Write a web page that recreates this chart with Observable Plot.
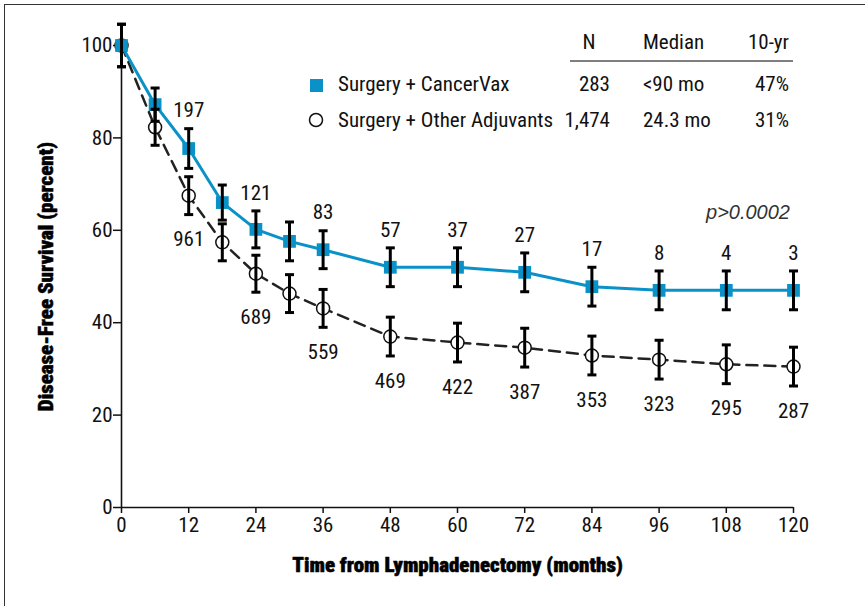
<!DOCTYPE html>
<html><head><meta charset="utf-8">
<script src="https://cdn.jsdelivr.net/npm/d3@7"></script>
<script src="https://cdn.jsdelivr.net/npm/@observablehq/plot@0.6"></script>
<style>
body{margin:0;background:#fff;}
#wrap{position:relative;width:865px;height:606px;overflow:hidden;background:#fff;}
#border{position:absolute;left:4px;top:4px;right:-10px;bottom:-10px;border-left:1.5px solid #333;border-top:1.5px solid #333;pointer-events:none;}
</style></head><body><div id="wrap"><div id="border"></div></div>
<script>
// ---- data ----
const months = [0, 6, 12, 18, 24, 30, 36, 48, 60, 72, 84, 96, 108, 120];
const cancerVax = [100, 87.2, 77.7, 66.0, 60.2, 57.6, 55.8, 52.0, 52.0, 50.9, 47.8, 47.0, 47.0, 47.0];
const cancerVaxErr = [4.6, 3.6, 4.3, 3.8, 4.0, 4.2, 4.1, 4.2, 4.2, 4.2, 4.2, 4.2, 4.2, 4.2];
const otherAdj = [100, 82.3, 67.5, 57.4, 50.6, 46.3, 43.1, 37.0, 35.7, 34.6, 32.9, 32.0, 31.0, 30.5];
const otherAdjErr = [4.6, 3.9, 4.1, 4.0, 4.0, 4.1, 4.1, 4.2, 4.2, 4.2, 4.2, 4.2, 4.2, 4.2];
const countMonths = [12, 24, 36, 48, 60, 72, 84, 96, 108, 120];
const cancerVaxN = [197, 121, 83, 57, 37, 27, 17, 8, 4, 3];
const otherAdjN = [961, 689, 559, 469, 422, 387, 353, 323, 295, 287];
const xTicks = [0, 12, 24, 36, 48, 60, 72, 84, 96, 108, 120];
const yTicks = [0, 20, 40, 60, 80, 100];
const seriesNames = ["Surgery + CancerVax", "Surgery + Other Adjuvants"];
const tableHeaders = ["N", "Median", "10-yr"];
const tableN = ["283", "1,474"];
const tableMedian = ["<90 mo", "24.3 mo"];
const tableTenYr = ["47%", "31%"];
const pValue = "p>0.0002";
const xLabel = "Time from Lymphadenectomy (months)";
const yLabel = "Disease-Free Survival (percent)";

// ---- build ----
const BLUE = "#0a92c8";
const FONT = '"Roboto Condensed", Roboto, "Liberation Sans", sans-serif';
const cancer = months.map((m, i) => ({month: m, value: cancerVax[i], err: cancerVaxErr[i]}));
const other = months.map((m, i) => ({month: m, value: otherAdj[i], err: otherAdjErr[i]}));
const all = cancer.concat(other);
const cancerLabels = countMonths.map((m, i) => ({...cancer.find(d => d.month === m), n: cancerVaxN[i]}));
const otherLabels = countMonths.map((m, i) => ({...other.find(d => d.month === m), n: otherAdjN[i]}));
const cap = {draw(ctx) { ctx.moveTo(-4.5, 0); ctx.lineTo(4.5, 0); }};

const chart = Plot.plot({
  width: 865, height: 606,
  marginLeft: 121, marginRight: 72, marginTop: 45, marginBottom: 99,
  style: {fontFamily: FONT, fontSize: "21px", fontStretch: "condensed", color: "#111", background: "transparent", overflow: "visible"},
  x: {domain: [0, 120]},
  y: {domain: [0, 100]},
  marks: [
    Plot.axisX({ticks: xTicks, tickSize: 6, tickPadding: 4, label: null, fontSize: 21, stroke: "#111", strokeWidth: 1.5, fill: "#111"}),
    Plot.axisY({ticks: yTicks, tickSize: 8, tickPadding: 1, label: null, fontSize: 21, stroke: "#111", strokeWidth: 1.5, fill: "#111"}),
    Plot.ruleY([0], {stroke: "#111", strokeWidth: 1.6}),
    Plot.ruleX([0], {y1: 0, y2: 100, stroke: "#111", strokeWidth: 1.6}),
    Plot.line(other, {x: "month", y: "value", stroke: "#222", strokeWidth: 2.5, strokeDasharray: "11,7"}),
    Plot.line(cancer, {x: "month", y: "value", stroke: BLUE, strokeWidth: 3}),
    Plot.dot(other, {x: "month", y: "value", r: 6.5, fill: "white", stroke: "#111", strokeWidth: 1.5}),
    Plot.dot(cancer, {x: "month", y: "value", symbol: "square", r: 7.2, fill: BLUE}),
    Plot.ruleX(all, {x: "month", y1: d => d.value - d.err, y2: d => d.value + d.err, stroke: "#000", strokeWidth: 3}),
    Plot.dot(all, {x: "month", y: d => d.value + d.err, symbol: cap, stroke: "#000", strokeWidth: 3}),
    Plot.dot(all, {x: "month", y: d => d.value - d.err, symbol: cap, stroke: "#000", strokeWidth: 3}),
    Plot.text(cancerLabels, {x: "month", y: d => d.value + d.err, text: d => String(d.n), dy: -18, fontSize: 21, fill: "#111"}),
    Plot.text(otherLabels, {x: "month", y: d => d.value - d.err, text: d => String(d.n), dy: 25, fontSize: 21, fill: "#111"}),
    Plot.text([xLabel], {frameAnchor: "bottom", textAnchor: "middle", dy: 64, fontSize: 21, fontWeight: 900, fill: "#000", stroke: "#000", strokeWidth: 0.5}),
    Plot.text([yLabel], {frameAnchor: "left", textAnchor: "middle", dx: -75, rotate: -90, fontSize: 21, fontWeight: 900, fill: "#000", stroke: "#000", strokeWidth: 0.5})
  ]
});
document.getElementById("wrap").appendChild(chart);

// ---- legend / table ----
const svg = d3.select(chart);
const g = svg.append("g").attr("font-family", FONT).attr("font-size", 21).attr("fill", "#111")
  .attr("text-anchor", "start").style("font-stretch", "condensed");
const headerX = [{x: 589, a: "middle"}, {x: 643, a: "start"}, {x: 789, a: "end"}];
tableHeaders.forEach((h, i) => g.append("text").attr("x", headerX[i].x).attr("y", 49).attr("text-anchor", headerX[i].a).text(h));
g.append("line").attr("x1", 570).attr("x2", 793).attr("y1", 61).attr("y2", 61).attr("stroke", "#555").attr("stroke-width", 1.5);
const rowY = [91, 127];
seriesNames.forEach((s, i) => {
  g.append("text").attr("x", 338).attr("y", rowY[i]).attr("text-anchor", "start").text(s);
  g.append("text").attr("x", 610).attr("y", rowY[i]).attr("text-anchor", "end").text(tableN[i]);
  g.append("text").attr("x", 643).attr("y", rowY[i]).attr("text-anchor", "start").text(tableMedian[i]);
  g.append("text").attr("x", 789).attr("y", rowY[i]).attr("text-anchor", "end").text(tableTenYr[i]);
});
g.append("rect").attr("x", 310).attr("y", 79).attr("width", 13).attr("height", 13).attr("fill", BLUE);
g.append("circle").attr("cx", 316).attr("cy", 120).attr("r", 6.5).attr("fill", "white").attr("stroke", "#111").attr("stroke-width", 1.5);
g.append("text").attr("x", 790).attr("y", 219).attr("text-anchor", "end")
  .style("font-family", '"Liberation Sans", Arial, sans-serif').style("font-stretch", "normal").attr("font-style", "italic").attr("font-size", 20).attr("fill", "#333").text(pValue);
</script>
</body></html>
